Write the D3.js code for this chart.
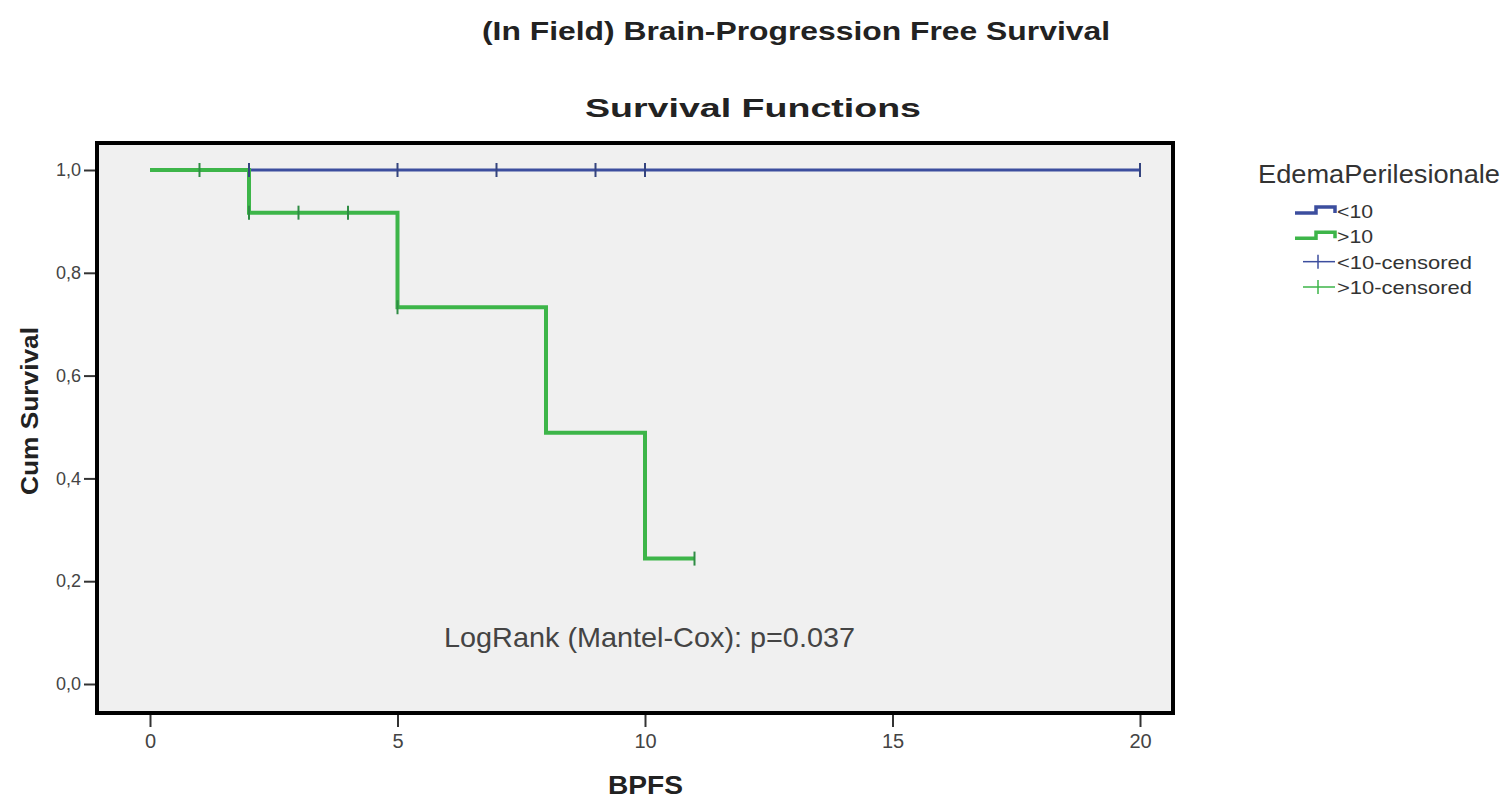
<!DOCTYPE html>
<html>
<head>
<meta charset="utf-8">
<script src="https://cdn.jsdelivr.net/npm/d3@7"></script>
<style>
  body { margin: 0; background: #fff; }
  text { font-family: "Liberation Sans", Arial, sans-serif; }
</style>
</head>
<body>
<svg id="chart"></svg>
<script>
const width = 1506;
const height = 801;

// step curves: [time, survival]
const lowSteps = [[0, 1], [20, 1]];
const highSteps = [[0, 1], [2, 1], [2, 0.917], [5, 0.917], [5, 0.733], [8, 0.733], [8, 0.489], [10, 0.489], [10, 0.244], [11, 0.244]];
// censored points
const lowCensored = [[2, 1], [5, 1], [7, 1], [9, 1], [10, 1], [20, 1]];
const highCensored = [[1, 1], [2, 0.917], [3, 0.917], [4, 0.917], [5, 0.733], [11, 0.244]];

const xTicks = [0, 5, 10, 15, 20];
const yTicks = [0, 0.2, 0.4, 0.6, 0.8, 1.0];
const legendLabels = ["<10", ">10", "<10-censored", ">10-censored"];

const blue = "#3c4e9e";
const green = "#3db549";

const frame = { left: 97, top: 143, right: 1173, bottom: 713 };

const svg = d3.select("#chart").attr("width", width).attr("height", height);

const x = d3.scaleLinear().domain([0, 20]).range([150, 1140]);
const y = d3.scaleLinear().domain([0, 1]).range([684, 170]);

svg.append("rect")
  .attr("x", frame.left)
  .attr("y", frame.top)
  .attr("width", frame.right - frame.left)
  .attr("height", frame.bottom - frame.top)
  .attr("fill", "#f0f0f0")
  .attr("stroke", "#000")
  .attr("stroke-width", 4);

// the source picture is stretched sideways, so text widths are fixed with textLength
function label(xp, yp, str, size, len, bold, color) {
  return svg.append("text")
    .attr("x", xp).attr("y", yp)
    .attr("font-size", size)
    .attr("font-weight", bold ? "bold" : "normal")
    .attr("fill", color || "#222")
    .attr("textLength", len)
    .attr("lengthAdjust", "spacingAndGlyphs")
    .text(str);
}

label(482, 40, "(In Field) Brain-Progression Free Survival", 25, 628, true);
label(585, 117, "Survival Functions", 26, 336, true);

// axes
const xAxis = svg.append("g")
  .attr("transform", `translate(0, ${frame.bottom + 2})`)
  .call(d3.axisBottom(x).tickValues(xTicks).tickSize(12).tickPadding(7));
xAxis.select(".domain").remove();
xAxis.selectAll("line").attr("stroke", "#333").attr("stroke-width", 2);
xAxis.selectAll("text").attr("font-size", 20).attr("fill", "#444")
  .style("font-family", "'Liberation Sans', Arial, sans-serif");

const yAxis = svg.append("g")
  .attr("transform", `translate(${frame.left - 2}, 0)`)
  .call(d3.axisLeft(y).tickValues(yTicks).tickSize(11).tickPadding(3)
    .tickFormat(d => d3.format(".1f")(d).replace(".", ",")));
yAxis.select(".domain").remove();
yAxis.selectAll("line").attr("stroke", "#333").attr("stroke-width", 2);
yAxis.selectAll("text").attr("font-size", 18).attr("fill", "#444")
  .style("font-family", "'Liberation Sans', Arial, sans-serif");

label(0, 0, "Cum Survival", 24, 168, true)
  .attr("transform", "translate(38, 495) rotate(-90)");

label(608, 794, "BPFS", 25, 75, true);

// curves
const line = d3.line().x(d => x(d[0])).y(d => y(d[1]));

svg.append("path")
  .attr("d", line(lowSteps))
  .attr("fill", "none").attr("stroke", blue).attr("stroke-width", 3);

svg.append("path")
  .attr("d", line(highSteps))
  .attr("fill", "none").attr("stroke", green).attr("stroke-width", 4);

function censorMarks(data, color) {
  svg.append("g").selectAll("line")
    .data(data)
    .enter()
    .append("line")
    .attr("x1", d => x(d[0])).attr("x2", d => x(d[0]))
    .attr("y1", d => y(d[1]) - 7).attr("y2", d => y(d[1]) + 7)
    .attr("stroke", color).attr("stroke-width", 2);
}
censorMarks(highCensored, "#2f8c44");
censorMarks(lowCensored, "#34447f");

label(444, 647, "LogRank (Mantel-Cox): p=0.037", 28, 411, false, "#444");

// legend
label(1258, 183, "EdemaPerilesionale", 26, 242, false, "#333");

const legend = svg.append("g").attr("transform", "translate(1295, 0)");
const legendY = d3.scalePoint().domain(legendLabels).range([211, 287]);
const legendColors = [blue, green, blue, green];
const legendWidths = [36, 36, 135, 135];

legendLabels.forEach((lab, i) => {
  const ly = legendY(lab);
  if (i < 2) {
    legend.append("path")
      .attr("d", `M0,${ly + 2} H21 V${ly - 4} H40 V${ly + 2}`)
      .attr("fill", "none").attr("stroke", legendColors[i]).attr("stroke-width", 3.5);
  } else {
    legend.append("line")
      .attr("x1", 8).attr("x2", 40).attr("y1", ly).attr("y2", ly)
      .attr("stroke", legendColors[i]).attr("stroke-width", 1.5);
    legend.append("line")
      .attr("x1", 23).attr("x2", 23).attr("y1", ly - 7).attr("y2", ly + 7)
      .attr("stroke", legendColors[i]).attr("stroke-width", 1.5);
  }
  legend.append("text")
    .attr("x", 42).attr("y", ly + 7)
    .attr("font-size", 19).attr("fill", "#333")
    .attr("textLength", legendWidths[i])
    .attr("lengthAdjust", "spacingAndGlyphs")
    .text(lab);
});
</script>
</body>
</html>
